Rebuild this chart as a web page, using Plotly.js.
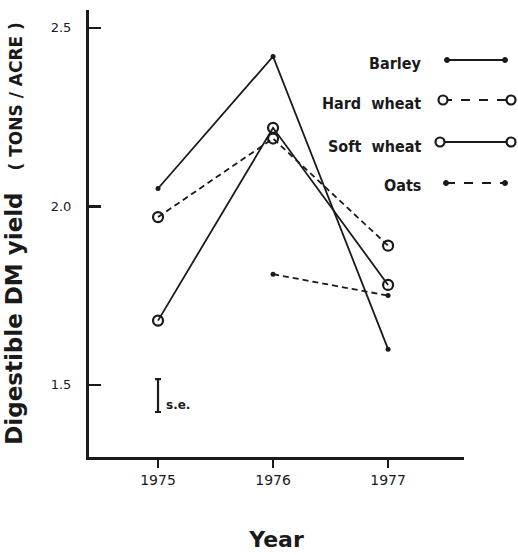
<!DOCTYPE html>
<html><head><meta charset="utf-8">
<script src="https://cdn.plot.ly/plotly-3.0.1.min.js"></script>
<style>html,body{margin:0;padding:0;background:#fff}#c{width:518px;height:555px}</style>
</head><body><div id="c"></div>
<script>
const years = [1975, 1976, 1977];
const barley = [2.05, 2.42, 1.60];
const hardWheat = [1.97, 2.19, 1.89];
const softWheat = [1.68, 2.22, 1.78];
const oatsYears = [1976, 1977];
const oats = [1.81, 1.75];
const seYear = [1975];
const seCenter = [1.47];
const seHalf = [0.046];
const yTicks = [1.5, 2.0, 2.5];
const yTickText = ['1.5', '2.0', '2.5'];
const legendLabels = ['Barley', 'Hard  wheat', 'Soft  wheat', 'Oats'];

const L = 89, R = 464, T = 10, B = 457;
const px = x => (x - L) / (R - L);
const py = y => (B - y) / (B - T);
const ink = '#1a1a1a';

const traces = [
  {x: years, y: barley, mode: 'lines+markers', line: {color: ink, width: 1.8},
   marker: {size: 5, color: ink}, cliponaxis: false},
  {x: years, y: hardWheat, mode: 'lines+markers', line: {color: ink, width: 1.8, dash: '6px,4px'},
   marker: {size: 10, symbol: 'circle-open', color: ink, line: {width: 2.2, color: ink}}, cliponaxis: false},
  {x: years, y: softWheat, mode: 'lines+markers', line: {color: ink, width: 1.8},
   marker: {size: 10, symbol: 'circle-open', color: ink, line: {width: 2.2, color: ink}}, cliponaxis: false},
  {x: oatsYears, y: oats, mode: 'lines+markers', line: {color: ink, width: 1.8, dash: '6px,4px'},
   marker: {size: 5, color: ink}, cliponaxis: false},
  {x: seYear, y: seCenter, mode: 'markers', marker: {size: 1, color: 'rgba(0,0,0,0)'},
   error_y: {type: 'data', array: seHalf, color: ink, thickness: 2.2, width: 3}}
];

const legRows = [
  {ty: 63, lx0: 447, lx1: 505, ly: 60, dash: 'solid', open: false},
  {ty: 104, lx0: 443, lx1: 511, ly: 100, dash: 'dash', open: true},
  {ty: 146, lx0: 440, lx1: 511, ly: 142, dash: 'solid', open: true},
  {ty: 186, lx0: 446, lx1: 505, ly: 183, dash: 'dash', open: false}
];
const shapes = [];
const annotations = [];
legRows.forEach((r, i) => {
  shapes.push({type: 'line', xref: 'paper', yref: 'paper', x0: px(r.lx0), x1: px(r.lx1), y0: py(r.ly), y1: py(r.ly),
    line: {color: ink, width: 1.8, dash: r.dash}});
  [r.lx0, r.lx1].forEach(cx => {
    const rad = r.open ? 4.5 : 2.5;
    shapes.push({type: 'circle', xref: 'paper', yref: 'paper', xsizemode: 'pixel', ysizemode: 'pixel',
      xanchor: px(cx), yanchor: py(r.ly), x0: -rad, x1: rad, y0: -rad, y1: rad,
      fillcolor: r.open ? '#fff' : ink, line: {color: ink, width: r.open ? 2.2 : 1}});
  });
  annotations.push({xref: 'paper', yref: 'paper', x: px(423), y: py(r.ty), xanchor: 'right', yanchor: 'middle',
    text: '<b>' + legendLabels[i] + '</b>', showarrow: false,
    font: {family: 'Liberation Sans Narrow, DejaVu Sans Condensed, Arial Narrow, sans-serif', size: 16, color: ink}});
});
annotations.push({xref: 'paper', yref: 'paper', x: px(164), y: py(405), xanchor: 'left', yanchor: 'middle',
  text: '<b>s.e.</b>', showarrow: false, font: {family: 'DejaVu Sans, sans-serif', size: 12, color: ink}});

const layout = {
  width: 518, height: 555,
  margin: {l: L, r: 518 - R, t: T, b: 555 - B},
  paper_bgcolor: '#fff', plot_bgcolor: '#fff',
  showlegend: false,
  font: {family: 'DejaVu Sans, sans-serif', color: ink},
  xaxis: {
    range: [1974.4, 1977.66], tickvals: years, ticktext: years.map(String),
    showgrid: false, zeroline: false, showline: true, linecolor: ink, linewidth: 3,
    ticks: 'outside', ticklen: 8, tickwidth: 2, tickcolor: ink,
    tickfont: {size: 14, family: 'DejaVu Sans, sans-serif', color: ink},
    title: {text: '<b>Year</b>', font: {size: 22, family: 'DejaVu Sans, sans-serif', color: ink}, standoff: 45}
  },
  yaxis: {
    range: [1.298, 2.55], tickvals: yTicks, ticktext: yTickText,
    showgrid: false, zeroline: false, showline: true, linecolor: ink, linewidth: 3,
    ticks: 'inside', ticklen: 12, tickwidth: 2.5, tickcolor: ink,
    ticklabelstandoff: 12,
    tickfont: {size: 13, family: 'DejaVu Sans, sans-serif', color: ink},
    title: {text: '<b>Digestible DM yield</b>   <span style="font-size:17px"><b>( TONS / ACRE )</b></span>',
      font: {size: 23, family: 'DejaVu Sans, sans-serif', color: ink}, standoff: 22}
  },
  shapes: shapes,
  annotations: annotations
};
Plotly.newPlot('c', traces, layout, {displayModeBar: false, staticPlot: true});
</script></body></html>
